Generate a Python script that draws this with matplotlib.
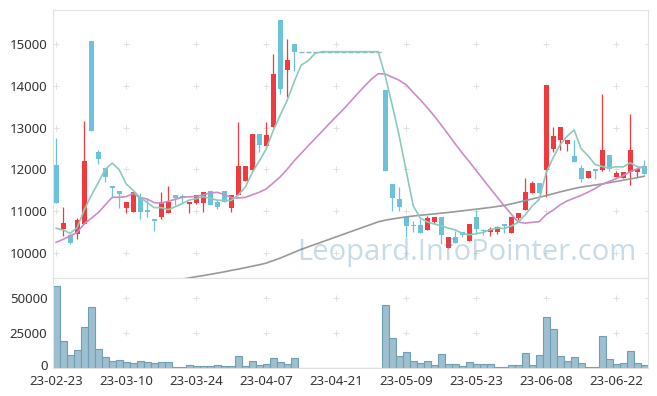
import numpy as np
import pandas as pd
import matplotlib
matplotlib.use('Agg')
import matplotlib.pyplot as plt
from matplotlib.transforms import ScaledTranslation

plt.rcParams['font.family'] = ['Noto Sans', 'DejaVu Sans']

# trading days (KRX holidays removed)
holidays = ['2023-03-01', '2023-05-01', '2023-05-05', '2023-05-29', '2023-06-06']
dates = pd.bdate_range('2023-02-23', '2023-06-28', freq='C', holidays=holidays)
date_labels = dates.strftime('%y-%m-%d')

halt = [14825] * 12

opens = [12105, 10562, 10425, 10442, 10682, 15080, 12424, 12040, 11600, 11480,
         11080, 10985, 11330, 11025, 10800, 10850, 10946, 11380, 11370, 11160,
         11200, 11200, 11480, 11224, 11480, 11080, 11385, 11728, 11985, 12850,
         12570, 13024, 15585, 14385, 15010] + halt + \
        [13905, 11650, 11290, 10865, 10660, 10665, 10537, 10745, 10857, 10105,
         10385, 10490, 10280, 10865, 10540, 10500, 10500, 10690, 10465, 10840,
         11025, 11440, 11680, 11985, 12490, 12705, 12600, 12330, 12025, 11800,
         12000, 11985, 12345, 11825, 11800, 11930, 11930, 12090]
highs = [12760, 11090, 10440, 10840, 13160, 15080, 12465, 12040, 11600, 11480,
         11224, 11457, 11440, 11280, 10800, 11464, 11600, 11380, 11400, 11224,
         11385, 11450, 11480, 11290, 11480, 11380, 13130, 12080, 12850, 12850,
         13130, 14760, 15585, 15120, 15010] + halt + \
        [13905, 11650, 11570, 10865, 10770, 10800, 10880, 10857, 10857, 10377,
         10530, 10490, 10690, 11025, 10580, 10625, 10650, 10690, 10850, 10960,
         11785, 11720, 11680, 14025, 13025, 13015, 12705, 12705, 12105, 11960,
         12000, 13800, 12345, 11960, 11935, 13320, 12000, 12225]
lows = [11200, 10400, 10220, 10322, 10680, 12928, 12120, 11690, 11320, 11080,
        10946, 10985, 10800, 10850, 10520, 10810, 10946, 11140, 11190, 10960,
        11180, 10985, 11145, 11055, 11210, 10970, 11385, 11728, 11985, 12410,
        12570, 13024, 13810, 13730, 14370] + halt + \
       [11961, 11000, 11000, 10370, 10505, 10465, 10537, 10690, 10210, 10105,
        10240, 10380, 10280, 10440, 10420, 10410, 10455, 10465, 10465, 10790,
        11025, 11440, 11440, 11330, 12410, 12465, 12440, 12185, 11690, 11800,
        11760, 11960, 11960, 11825, 11800, 11625, 11825, 11890]
closes = [11200, 10706, 10226, 10785, 12200, 12928, 12242, 11824, 11560, 11415,
          11224, 11457, 10970, 10970, 10790, 11217, 11217, 11320, 11340, 11224,
          11385, 11450, 11145, 11090, 11210, 11380, 12080, 12080, 12850, 12590,
          12825, 14290, 13940, 14625, 14825] + halt + \
         [11961, 11306, 11105, 10650, 10640, 10465, 10840, 10857, 10425, 10377,
          10240, 10420, 10690, 10560, 10520, 10560, 10625, 10640, 10850, 10960,
          11465, 11680, 11440, 14025, 12800, 13015, 12705, 12185, 11760, 11960,
          11970, 12465, 12000, 11920, 11935, 12465, 12000, 11890]

volumes = [58470, 19130, 8980, 12600, 29490, 43980, 13330, 7750, 4850, 6085,
           4130, 3400, 4850, 4130, 3400, 4130, 4130, 1000, 1000, 2460,
           1740, 1740, 1740, 2460, 1740, 1740, 8260, 1740, 5360, 2460,
           3190, 6810, 4130, 3190, 6810] + [0] * 12 + \
          [45430, 21520, 8480, 11380, 4850, 3400, 4850, 1960, 9930, 2680,
           2680, 1230, 4130, 2680, 2680, 2680, 510, 510, 1960, 1960,
           10650, 1960, 9200, 36740, 28040, 8480, 4850, 7750, 3400, 510,
           510, 22970, 6300, 2680, 3400, 12100, 3400, 1960]

ma5_head = [10585, 10545, 10465, 10600]
ma20_head = [10250, 10320, 10400, 10490, 10690, 10825, 10960, 11145, 11330, 11330,
             11345, 11425, 11320, 11290, 11200, 11190, 11235, 11280, 11330]
# long MA (gray), starts below the visible range
ma_long = [np.nan] * 17 + \
          [9340, 9365, 9395, 9425, 9450, 9480, 9510, 9540, 9575, 9605,
           9640, 9675, 9710, 9750, 9810, 9870, 9940, 10010, 10080, 10140,
           10200, 10260, 10320, 10380, 10440, 10500, 10560, 10620, 10680, 10740,
           10780, 10810, 10835, 10860, 10880, 10900, 10915, 10930, 10950, 10965,
           10985, 11005, 11025, 11045, 11065, 11085, 11110, 11135, 11170, 11210,
           11250, 11290, 11330, 11370, 11415, 11460, 11500, 11540, 11575, 11600,
           11625, 11650, 11680, 11710, 11740, 11770, 11800, 11835]

price_ticks = [10000, 11000, 12000, 13000, 14000, 15000]
vol_ticks = [0, 25000, 50000]

df = pd.DataFrame({'open': opens, 'high': highs, 'low': lows,
                   'close': closes, 'volume': volumes}, index=dates)
ma5 = df['close'].rolling(5).mean().values
ma5[:4] = ma5_head
ma20 = df['close'].rolling(20).mean().values
ma20[:19] = ma20_head

x = np.arange(len(df))
up_c, down_c, flat_c = '#f03a3e', '#6bc2da', '#86b4c2'
colors = np.where(df['close'] > df['open'], up_c,
                  np.where(df['close'] < df['open'], down_c, flat_c))

fig = plt.figure(figsize=(6.57, 3.96), dpi=100)
ax1 = fig.add_axes([53 / 657, 1 - 278 / 396, 595 / 657, 268 / 396])
ax2 = fig.add_axes([53 / 657, 1 - 368 / 396, 595 / 657, 90 / 396])

xlim = (-0.45, 84.55)
xt = list(range(0, len(df), 10))

# price panel
body = (df['close'] - df['open']).values
bottom = df['open'].values
height = np.where(np.abs(body) < 30, np.where(body < 0, -30, 30), body)
moving = body != 0
ax1.vlines(x, df['low'], df['high'], colors=colors, lw=0.9, zorder=2)
ax1.bar(x[moving], height[moving], bottom=bottom[moving], width=0.7,
        color=colors[moving], lw=0, zorder=3)
ax1.hlines(df['close'][~moving], x[~moving] - 0.35, x[~moving] + 0.35,
           colors=flat_c, lw=1.0, zorder=3)
ax1.plot(x, ma_long, color='#999999', lw=1.2, zorder=4)
ax1.plot(x, ma20, color='#cc8cc6', lw=1.2, zorder=4)
ax1.plot(x, ma5, color='#8ccabe', lw=1.2, zorder=4)

gx, gy = np.meshgrid(xt + [xlim[1]], price_ticks)
ax1.plot(gx.ravel(), gy.ravel(), ls='none', marker='+', ms=5, mew=0.7,
         color='#e0e0e0', zorder=0)
ax1.set_xlim(*xlim)
ax1.set_ylim(9393, 15825)
ax1.set_yticks(price_ticks)
ax1.set_xticks([])
ax1.text(0.696, 0.097, 'Leopard.InfoPointer.com', transform=ax1.transAxes,
         ha='center', va='center', fontsize=21, color='#377da5', alpha=0.27,
         family='Open Sans', zorder=6)

# volume panel
ax2.bar(x, df['volume'], width=1.0, color='#9dbfcf', edgecolor='#6f9fb5',
        lw=0.8, zorder=2)
gx, gy = np.meshgrid(xt + [xlim[1]], vol_ticks[1:])
ax2.plot(gx.ravel(), gy.ravel(), ls='none', marker='+', ms=5, mew=0.7,
         color='#e0e0e0', zorder=0)
ax2.set_xlim(*xlim)
ax2.set_ylim(0, 64500)
ax2.set_yticks(vol_ticks)
ax2.set_xticks(xt)
ax2.set_xticklabels([date_labels[i] for i in xt])

for ax in (ax1, ax2):
    for s in ax.spines.values():
        s.set_color('#e2e2e2')
    ax.tick_params(length=0, labelsize=9.5, colors='#333333', pad=4)
ax2.tick_params(axis='x', pad=5)

# nudge the volume "0" label up so it clears the first date label
zero_lbl = ax2.get_yticklabels()[0]
zero_lbl.set_transform(zero_lbl.get_transform() +
                       ScaledTranslation(0, 2.5 / 72, fig.dpi_scale_trans))

fig.savefig('out.png', dpi=100)
